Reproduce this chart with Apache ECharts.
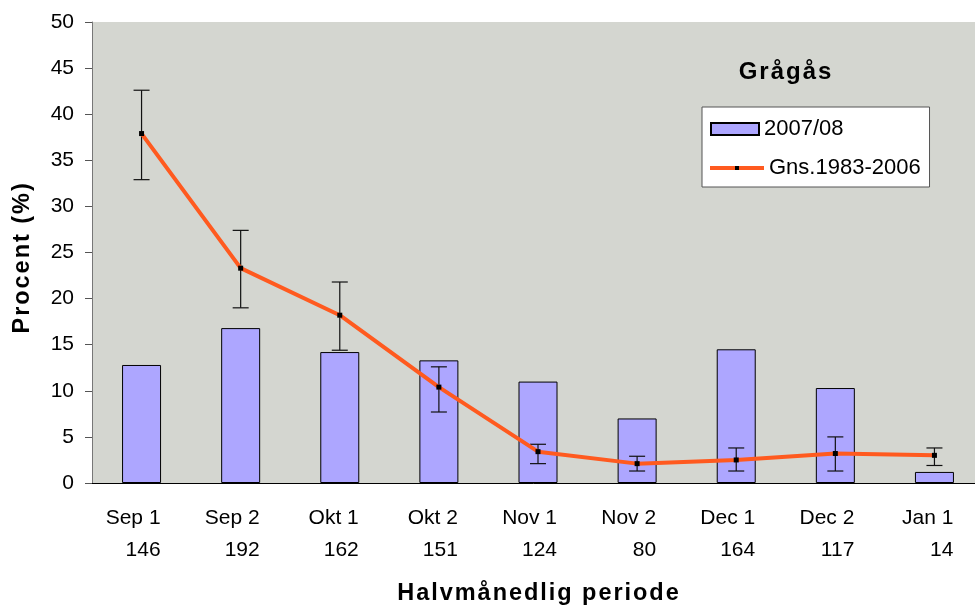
<!DOCTYPE html>
<html>
<head>
<meta charset="utf-8">
<script src="https://cdn.jsdelivr.net/npm/echarts@6/dist/echarts.min.js"></script>
<style>
  html, body { margin: 0; padding: 0; background: #fff; }
  #chart { width: 975px; height: 609px; }
</style>
</head>
<body>
<div id="chart"></div>
<script>
// perioder og antal
var perioder = ['Sep 1', 'Sep 2', 'Okt 1', 'Okt 2', 'Nov 1', 'Nov 2', 'Dec 1', 'Dec 2', 'Jan 1'];
var antal = [146, 192, 162, 151, 124, 80, 164, 117, 14];
// 2007/08 saeson
var saeson = [12.8, 16.8, 14.2, 13.3, 11.0, 7.0, 14.5, 10.3, 1.2];
// gennemsnit 1983-2006 med min/max
var gns = [37.9, 23.3, 18.2, 10.4, 3.4, 2.1, 2.5, 3.2, 3.0];
var gnsLav = [32.9, 19.0, 14.4, 7.7, 2.1, 1.3, 1.3, 1.3, 1.9];
var gnsHoj = [42.6, 27.4, 21.8, 12.6, 4.2, 2.9, 3.8, 5.0, 3.8];
var yTicks = [0, 5, 10, 15, 20, 25, 30, 35, 40, 45, 50];

var fejl = [];
for (var i = 0; i < perioder.length; i++) {
    fejl.push([i, gnsLav[i], gnsHoj[i]]);
}

// lidt luft mellem bogstaverne (som i originalen)
function spredt(s) {
    return s.split('').join('\u200A');
}

var chart = echarts.init(document.getElementById('chart'));
var font = 'Liberation Sans, Arial, sans-serif';

var option = {
    animation: false,
    textStyle: { fontFamily: font },
    title: {
        text: spredt('Grågås'),
        left: 780,
        top: 55,
        textAlign: 'center',
        textStyle: { fontSize: 24, fontWeight: 'bold', color: '#000', fontFamily: font }
    },
    legend: [
        {
            // boks + søjle
            orient: 'vertical',
            left: 702,
            top: 107,
            padding: [11, 86, 47, 8],
            itemWidth: 48,
            itemHeight: 12,
            icon: 'rect',
            backgroundColor: '#fff',
            borderColor: '#555',
            borderWidth: 1,
            textStyle: { fontSize: 22, color: '#000', fontFamily: font },
            data: ['2007/08'],
            z: 4
        },
        {
            // linje
            orient: 'vertical',
            left: 702,
            top: 157,
            padding: [0, 0, 0, 6],
            itemWidth: 54,
            itemHeight: 5,
            lineStyle: { width: 4 },
            textStyle: { fontSize: 22, color: '#000', fontFamily: font },
            data: ['Gns.1983-2006'],
            z: 5
        }
    ],
    grid: {
        left: 92,
        top: 22,
        width: 892,
        height: 461,
        containLabel: false,
        outerBoundsMode: 'none',
        show: true,
        backgroundColor: '#D4D6D0',
        borderWidth: 0
    },
    xAxis: {
        type: 'category',
        data: perioder,
        name: spredt('Halvmånedlig periode'),
        nameLocation: 'middle',
        nameGap: 99,
        nameTextStyle: { fontSize: 23.5, fontWeight: 'bold', color: '#000', fontFamily: font },
        axisLine: { lineStyle: { color: '#000', width: 1 } },
        axisTick: { length: 6, lineStyle: { color: '#555' } },
        axisLabel: {
            interval: 0,
            margin: 19,
            formatter: function (v, idx) {
                return '{a|' + v + '}\n{b|' + antal[idx] + '}';
            },
            rich: {
                a: { fontSize: 21, color: '#000', lineHeight: 32, width: 100, align: 'right', padding: [0, 62, 0, 0], fontFamily: font },
                b: { fontSize: 21, color: '#000', lineHeight: 32, width: 100, align: 'right', padding: [0, 62, 0, 0], fontFamily: font }
            }
        }
    },
    yAxis: {
        type: 'value',
        min: 0,
        max: 50,
        interval: 5,
        name: spredt('Procent (%)') + '\u200A\u200A\u200A\u200A\u200A\u200A',
        nameLocation: 'middle',
        nameGap: 57,
        nameTextStyle: { fontSize: 23.5, fontWeight: 'bold', color: '#000', fontFamily: font },
        axisLine: { show: true, lineStyle: { color: '#777', width: 1 } },
        axisTick: { show: true, length: 7, lineStyle: { color: '#555' } },
        axisLabel: {
            fontSize: 21,
            color: '#000',
            margin: 18,
            fontFamily: font,
            formatter: function (v) { return yTicks.indexOf(v) >= 0 ? String(v) : ''; }
        },
        splitLine: { show: false }
    },
    series: [
        {
            name: '2007/08',
            type: 'bar',
            data: saeson,
            barWidth: 39,
            itemStyle: { color: '#ADA6FF', borderColor: '#000', borderWidth: 1 },
            z: 2
        },
        {
            name: 'fejl',
            type: 'custom',
            data: fejl,
            encode: { x: 0, y: [1, 2] },
            z: 3,
            silent: true,
            renderItem: function (params, api) {
                var x = api.value(0);
                var lav = api.coord([x, api.value(1)]);
                var hoj = api.coord([x, api.value(2)]);
                var half = 8;
                var stil = { stroke: '#111', lineWidth: 1.2 };
                return {
                    type: 'group',
                    children: [
                        { type: 'line', shape: { x1: lav[0], y1: lav[1], x2: hoj[0], y2: hoj[1] }, style: stil },
                        { type: 'line', shape: { x1: lav[0] - half, y1: lav[1], x2: lav[0] + half, y2: lav[1] }, style: stil },
                        { type: 'line', shape: { x1: hoj[0] - half, y1: hoj[1], x2: hoj[0] + half, y2: hoj[1] }, style: stil }
                    ]
                };
            }
        },
        {
            name: 'Gns.1983-2006',
            type: 'line',
            data: gns,
            symbol: 'rect',
            symbolSize: 5,
            lineStyle: { color: '#FF5A1F', width: 4 },
            itemStyle: { color: '#000' },
            z: 4
        }
    ]
};

chart.setOption(option);
</script>
</body>
</html>
